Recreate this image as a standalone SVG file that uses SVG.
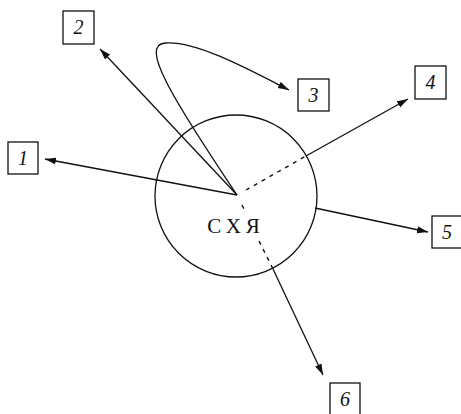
<svg xmlns="http://www.w3.org/2000/svg" width="461" height="414" viewBox="0 0 461 414">
<style>
.box{fill:#fff;stroke:#111;stroke-width:1.3}
.num{font-family:"Liberation Serif",serif;font-style:italic;font-size:20px;fill:#111;text-anchor:middle}
.ln{fill:none;stroke:#111;stroke-width:1.3}
.dash{fill:none;stroke:#111;stroke-width:1.4;stroke-dasharray:4 5}
</style>
<defs>
<marker id="ah" markerUnits="userSpaceOnUse" markerWidth="12" markerHeight="8" refX="11" refY="3.5" orient="auto">
<path d="M0,0 L11,3.5 L0,7 z" fill="#111"/>
</marker>
</defs>
<rect width="461" height="414" fill="#fff"/>
<g id="system">
<circle cx="236" cy="196" r="81" class="ln"/>
<text x="236" y="233" font-family="Liberation Serif,serif" font-size="21" fill="#111" text-anchor="middle" letter-spacing="5">СХЯ</text>
</g>
<g id="connectors">
<line x1="237" y1="195" x2="45" y2="159" class="ln" marker-end="url(#ah)"/>
<line x1="237" y1="195" x2="100" y2="49" class="ln" marker-end="url(#ah)"/>
<path d="M237,195 C170,95 140,45 165,43 C195,40 250,70 289,90" class="ln" marker-end="url(#ah)"/>
<line x1="246" y1="190" x2="306" y2="156" class="dash"/>
<line x1="306" y1="156" x2="408" y2="99" class="ln" marker-end="url(#ah)"/>
<line x1="315" y1="208" x2="428" y2="232" class="ln" marker-end="url(#ah)"/>
<line x1="242" y1="205" x2="246" y2="213" class="dash"/>
<line x1="259" y1="241" x2="273" y2="269" class="dash"/>
<line x1="273" y1="269" x2="323" y2="375" class="ln" marker-end="url(#ah)"/>
</g>
<g id="n1"><rect x="8" y="142" width="30" height="32" class="box"/><text x="23" y="165" class="num">1</text></g>
<g id="n2"><rect x="63" y="11" width="31" height="33" class="box"/><text x="78.5" y="34" class="num">2</text></g>
<g id="n3"><rect x="298" y="79" width="31" height="32" class="box"/><text x="313.5" y="102" class="num">3</text></g>
<g id="n4"><rect x="415" y="66" width="31" height="33" class="box"/><text x="430.5" y="89" class="num">4</text></g>
<g id="n5"><rect x="432" y="216" width="30" height="32" class="box"/><text x="447" y="239" class="num">5</text></g>
<g id="n6"><rect x="330" y="383" width="30" height="33" class="box"/><text x="345" y="406" class="num">6</text></g>
</svg>
